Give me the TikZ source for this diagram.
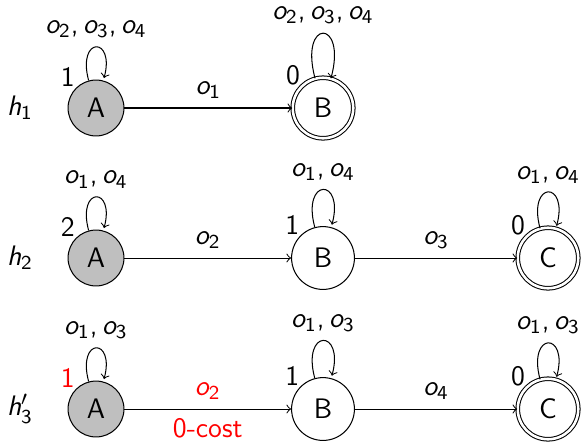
\documentclass[tikz,border=0pt]{standalone}
\usepackage{amsmath}
\usepackage{tikz}

% sans serif math letters and digits
\SetSymbolFont{letters}{normal}{TU}{lmss}{m}{sl}
\SetSymbolFont{operators}{normal}{TU}{lmss}{m}{n}
\DeclareMathSymbol{,}{\mathpunct}{operators}{"2C}

\tikzset{
  state/.style={circle,draw,minimum size=24.5pt,inner sep=0pt},
  start/.style={state,fill=gray!50,minimum size=21.8pt},
  final/.style={state,double,double distance=1pt,minimum size=23.6pt}
}

\begin{document}
\begin{tikzpicture}[x=0.39pt,y=-0.39pt,font=\fontsize{11}{13}\selectfont\sffamily,>=to]
			\useasboundingbox (0,0) rectangle (583,442);

			% row labels
			\node (h1) at (20,108) {$h_1$};
			\node (h2) at (20,258) {$h_2$};
			\node (h3) at (20,409) {$h'_3$};

			\begin{scope}[every label/.style={inner sep=0.3pt}]
				\node (A1) [start,label=135:1] at (96,108) {A};
				\node (B1) [final,label=135:0] at (323,108) {B};

				\node (A2) [start,label=135:2] at (96,258) {A};
				\node (B2) [state,label=135:1] at (323,258) {B};
				\node (C2) [final,label=135:0] at (548,258) {C};

				\node (A3) [start,label={[red]135:1}] at (96,409) {A};
				\node (B3) [state,label=135:1] at (323,409) {B};
				\node (C3) [final,label=135:0] at (548,409) {C};
			\end{scope}

			\begin{scope}[every edge/.style={draw=black}]
				\path [->] (A1) edge node [above] {$o_1$} (B1);
				\path [->] (A1) edge [loop above] node {$o_2, o_3, o_4$} (A1);
				\path [->] (B1) edge [loop above,looseness=10] node {$o_2, o_3, o_4$} (B1);

				\path [->] (A2) edge node [above] {$o_2$} (B2);
				\path [->] (B2) edge node [above] {$o_3$} (C2);
				\path [->] (A2) edge [loop above] node {$o_1, o_4$} (A2);
				\path [->] (B2) edge [loop above] node {$o_1, o_4$} (B2);
				\path [->] (C2) edge [loop above] node {$o_1, o_4$} (C2);

				\path [->] (A3) edge node [above,red] {$o_2$} node [below,red] {0-cost} (B3);
				\path [->] (B3) edge node [above] {$o_4$} (C3);
				\path [->] (A3) edge [loop above] node {$o_1, o_3$} (A3);
				\path [->] (B3) edge [loop above] node {$o_1, o_3$} (B3);
				\path [->] (C3) edge [loop above] node {$o_1, o_3$} (C3);
			\end{scope}
		\end{tikzpicture}
\end{document}
